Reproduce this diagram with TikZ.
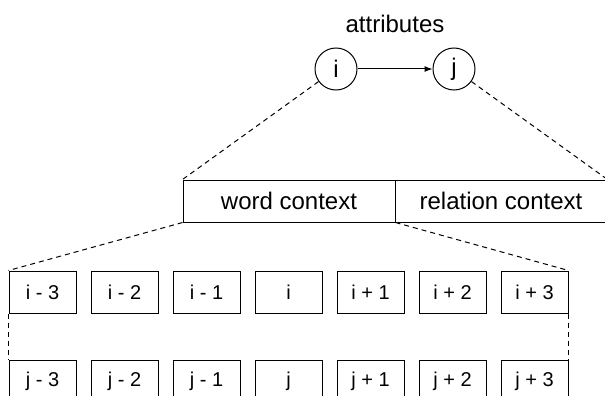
\documentclass[tikz,border=0pt]{standalone}
\usepackage{fontspec}
\setmainfont{Liberation Sans}
\usetikzlibrary{arrows.meta}
\begin{document}
\begin{tikzpicture}[x=1pt,y=-1pt,line width=1pt,
  circ/.style={draw,circle,minimum size=42pt,inner sep=0pt,font=\fontsize{24}{28}\selectfont},
  ctxbox/.style={draw,minimum width=212pt,minimum height=42pt,inner sep=0pt,font=\fontsize{24}{28}\selectfont},
  cellbox/.style={draw,minimum width=67pt,minimum height=42pt,inner sep=0pt,font=\fontsize{20}{24}\selectfont},
  dsh/.style={dash pattern=on 5pt off 4pt},
  lbl/.style={font=\fontsize{24}{28}\selectfont}
]
\useasboundingbox (0,0) rectangle (605,396);
\clip (0,0) rectangle (605,396);

\node[lbl] (att) at (395,24) {attributes};
\node[circ] (ci) at (336,69) {i};
\node[circ] (cj) at (454,69) {j};
\draw[-{Latex[length=8pt,width=6pt]}] (ci) -- (cj);

\node[ctxbox] (wc) at (289,201) {word context};
\node[ctxbox] (rc) at (501,201) {relation context};

\foreach \k/\t/\s in {1/i - 3/j - 3,2/i - 2/j - 2,3/i - 1/j - 1,4/i/j,5/i + 1/j + 1,6/i + 2/j + 2,7/i + 3/j + 3}{
  \node[cellbox] (b\k) at ({42.5+82*(\k-1)},292) {\t};
  \node[cellbox] (d\k) at ({42.5+82*(\k-1)},381) {\s};
}

\draw[dsh] (ci) -- (wc.north west);
\draw[dsh] (cj) -- (rc.north east);
\draw[dsh] (wc.south west) -- (b1.north west);
\draw[dsh] (wc.south east) -- (b7.north east);
\draw[dsh] (b1.south west) -- (d1.north west);
\draw[dsh] (b7.south east) -- (d7.north east);
\end{tikzpicture}
\end{document}
